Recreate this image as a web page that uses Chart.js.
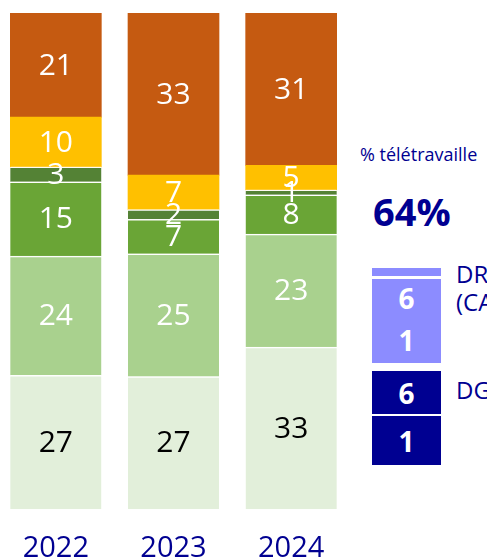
<!DOCTYPE html>
<html lang="fr">
<head>
<meta charset="utf-8">
<script src="https://cdn.jsdelivr.net/npm/chart.js@4"></script>
<style>
  html, body { margin: 0; padding: 0; background: #fff; }
  body { width: 487px; height: 560px; position: relative; overflow: hidden; font-family: "Open Sans", sans-serif; color: #000091; }
  #wrap { position: absolute; left: -3px; top: 0; width: 353px; height: 588px; }
  .side { position: absolute; white-space: nowrap; }
  .box { position: absolute; left: 372px; width: 69px; color: #fff; font-weight: 700; font-size: 28px; display: flex; align-items: center; justify-content: center; }
</style>
</head>
<body>
<div id="wrap"><canvas id="bars"></canvas></div>

<div class="side" style="left:360px; top:142px; font-size:18px;">% télétravaille</div>
<div class="side" id="share" style="left:373px; top:185px; font-size:38px; font-weight:700;"></div>

<div class="box" style="top:268px; height:8px; background:#8c8cff;"></div>
<div class="box" id="drTop" style="top:279px; height:38px; background:#8c8cff;"></div>
<div class="box" id="drBot" style="top:317px; height:46px; background:#8c8cff;"></div>
<div class="side" style="left:456px; top:260px; font-size:24px; line-height:28px;">DR<br>(CA</div>

<div class="box" id="dgTop" style="top:371px; height:43px; background:#000091;"></div>
<div class="box" id="dgBot" style="top:416px; height:49px; background:#000091;"></div>
<div class="side" style="left:456px; top:373px; font-size:24px;">DG</div>

<script>
const years = ["2022", "2023", "2024"];

// bottom to top
const lightest = [27, 27, 33];
const light    = [24, 25, 23];
const green    = [15, 7, 8];
const dark     = [3, 2, 1];
const yellow   = [10, 7, 5];
const orange   = [21, 33, 31];

const teleworkShare = "64%";
const drValues = [6, 1];
const dgValues = [6, 1];

document.getElementById("share").textContent = teleworkShare;
document.getElementById("drTop").textContent = drValues[0];
document.getElementById("drBot").textContent = drValues[1];
document.getElementById("dgTop").textContent = dgValues[0];
document.getElementById("dgBot").textContent = dgValues[1];

const series = [
  { values: lightest, color: "#e2efda", text: "#000", line: true },
  { values: light,    color: "#a9d18e", text: "#fff", line: true },
  { values: green,    color: "#6aa536", text: "#fff", line: true },
  { values: dark,     color: "#548235", text: "#fff", line: true },
  { values: yellow,   color: "#ffc000", text: "#fff", line: false },
  { values: orange,   color: "#c55a11", text: "#fff", line: false }
];

const totals = years.map((_, i) => series.reduce((s, d) => s + d.values[i], 0));

const segLabels = {
  id: "segLabels",
  afterDatasetsDraw(chart){
    const ctx = chart.ctx;
    ctx.save();
    ctx.font = "30px 'Open Sans', sans-serif";
    ctx.textAlign = "center";
    ctx.textBaseline = "middle";
    chart.data.datasets.forEach((ds, di) => {
      chart.getDatasetMeta(di).data.forEach((bar, i) => {
        ctx.fillStyle = ds.textColor;
        ctx.fillText(String(ds.raw[i]), bar.x, (bar.y + bar.base) / 2 + 1);
      });
    });
    ctx.restore();
  }
};

new Chart(document.getElementById("bars"), {
  type: "bar",
  data: {
    labels: years,
    datasets: series.map(s => ({
      data: s.values.map((v, i) => v / totals[i] * 100),
      raw: s.values,
      textColor: s.text,
      backgroundColor: s.color,
      borderColor: "rgba(255,255,255,0.8)",
      borderWidth: s.line ? { top: 1.5, bottom: 0, left: 0, right: 0 } : 0,
      borderSkipped: false,
      barThickness: 91
    }))
  },
  options: {
    responsive: true,
    maintainAspectRatio: false,
    animation: false,
    devicePixelRatio: 1,
    layout: { padding: { top: 13, bottom: 0, left: 0, right: 0 } },
    plugins: { legend: { display: false }, tooltip: { enabled: false } },
    scales: {
      x: {
        stacked: true,
        grid: { display: false, drawTicks: false },
        border: { display: false },
        ticks: { color: "#000091", font: { size: 29, family: "'Open Sans', sans-serif" }, padding: 22 }
      },
      y: { stacked: true, display: false, min: 0, max: 100 }
    }
  },
  plugins: [segLabels]
});
</script>
</body>
</html>
